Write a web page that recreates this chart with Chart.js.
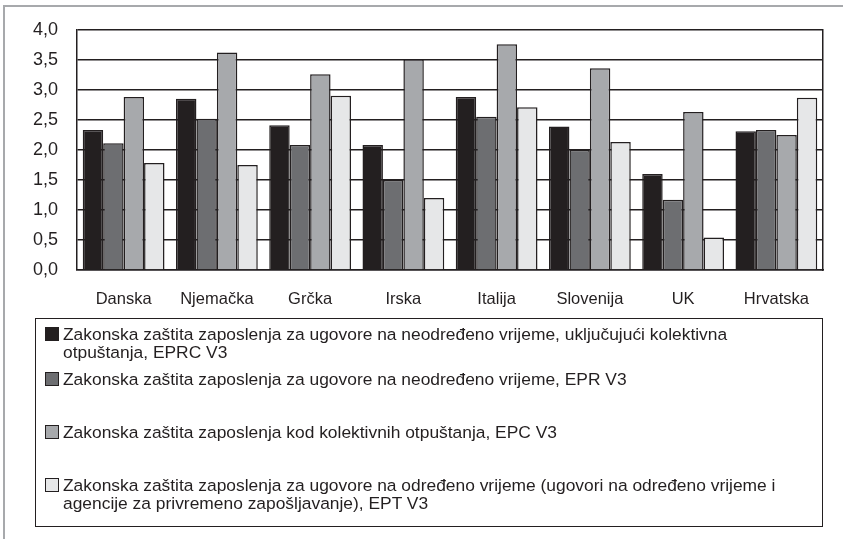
<!DOCTYPE html>
<html>
<head>
<meta charset="utf-8">
<script src="https://cdn.jsdelivr.net/npm/chart.js@4/dist/chart.umd.min.js"></script>
<style>
  html, body { margin: 0; padding: 0; background: #ffffff; }
  body { width: 843px; height: 539px; position: relative; overflow: hidden; font-family: "Liberation Sans", Arial, sans-serif; color: #231f20; }
  #frame { position: absolute; left: 3px; top: 5px; width: 850px; height: 600px; border-top: 2px solid #a7a9ac; border-left: 2px solid #a7a9ac; }
  #wrap { position: absolute; left: 0; top: 0; width: 843px; height: 320px; }
  #legend { position: absolute; left: 35px; top: 318px; width: 786px; height: 207px; border: 1.5px solid #231f20; }
  .item { position: absolute; left: 9px; font-size: 17.4px; line-height: 18px; }
  .sw { position: absolute; left: 0; top: 2px; width: 12px; height: 12px; border: 1.5px solid #231f20; box-sizing: content-box; }
  .txt { position: absolute; left: 18px; white-space: nowrap; }
</style>
</head>
<body>
<div id="frame"></div>
<div id="wrap"><canvas id="c"></canvas></div>
<div id="legend"></div>
<script>
const categories = ['Danska', 'Njemačka', 'Grčka', 'Irska', 'Italija', 'Slovenija', 'UK', 'Hrvatska'];
const seriesNames = [
  ['Zakonska zaštita zaposlenja za ugovore na neodređeno vrijeme, uključujući kolektivna', 'otpuštanja, EPRC V3'],
  ['Zakonska zaštita zaposlenja za ugovore na neodređeno vrijeme, EPR V3'],
  ['Zakonska zaštita zaposlenja kod kolektivnih otpuštanja, EPC V3'],
  ['Zakonska zaštita zaposlenja za ugovore na određeno vrijeme (ugovori na određeno vrijeme i', 'agencije za privremeno zapošljavanje), EPT V3']
];
const eprc = [2.33, 2.85, 2.41, 2.08, 2.88, 2.39, 1.60, 2.31];
const epr  = [2.11, 2.52, 2.08, 1.50, 2.55, 2.00, 1.17, 2.33];
const epc  = [2.88, 3.62, 3.26, 3.51, 3.76, 3.36, 2.63, 2.25];
const ept  = [1.78, 1.75, 2.90, 1.20, 2.71, 2.13, 0.54, 2.87];
const yTickLabels = ['0,0', '0,5', '1,0', '1,5', '2,0', '2,5', '3,0', '3,5', '4,0'];

const colors = ['#231f20', '#6d6e71', '#a7a9ac', '#e6e7e8'];
const values = [eprc, epr, epc, ept];
const ink = '#231f20';

const datasets = values.map((v, i) => ({
  label: seriesNames[i].join(' '),
  data: v,
  backgroundColor: colors[i],
  borderColor: ink,
  borderWidth: 1.5,
  borderSkipped: 'bottom',
  categoryPercentage: 0.877,
  barPercentage: 1.0
}));

new Chart(document.getElementById('c'), {
  type: 'bar',
  data: { labels: categories, datasets },
  options: {
    responsive: true,
    maintainAspectRatio: false,
    animation: false,
    events: [],
    layout: { padding: { left: 0, right: 20, top: 29, bottom: 9 } },
    plugins: { legend: { display: false }, tooltip: { enabled: false } },
    scales: {
      x: {
        grid: { display: false, drawTicks: false },
        border: { display: true, color: ink, width: 1.5 },
        ticks: { color: ink, padding: 20, font: { family: '"Liberation Sans", Arial, sans-serif', size: 16.5 } },
        afterFit: s => { s.height = 41; }
      },
      y: {
        min: 0, max: 4,
        grid: { color: ink, lineWidth: 1.5, drawTicks: false },
        border: { display: true, color: ink, width: 1.5 },
        ticks: {
          stepSize: 0.5, padding: 19, color: ink,
          font: { family: '"Liberation Sans", Arial, sans-serif', size: 18 },
          callback: (val, idx) => yTickLabels[idx]
        },
        afterFit: s => { s.width = 77; }
      },
      y2: {
        position: 'right', min: 0, max: 4,
        grid: { display: false, drawTicks: false },
        border: { display: true, color: ink, width: 1.5 },
        ticks: { display: false },
        afterFit: s => { s.width = 0; }
      }
    }
  }
});

const legend = document.getElementById('legend');
const tops = [6, 51, 104, 157];
seriesNames.forEach((lines, i) => {
  const it = document.createElement('div');
  it.className = 'item';
  it.style.top = tops[i] + 'px';
  const sw = document.createElement('div');
  sw.className = 'sw';
  sw.style.background = colors[i];
  const t = document.createElement('div');
  t.className = 'txt';
  t.innerHTML = lines.map(l => l.replace(/&/g, '&amp;')).join('<br>');
  it.appendChild(sw); it.appendChild(t);
  legend.appendChild(it);
});
</script>
</body>
</html>
